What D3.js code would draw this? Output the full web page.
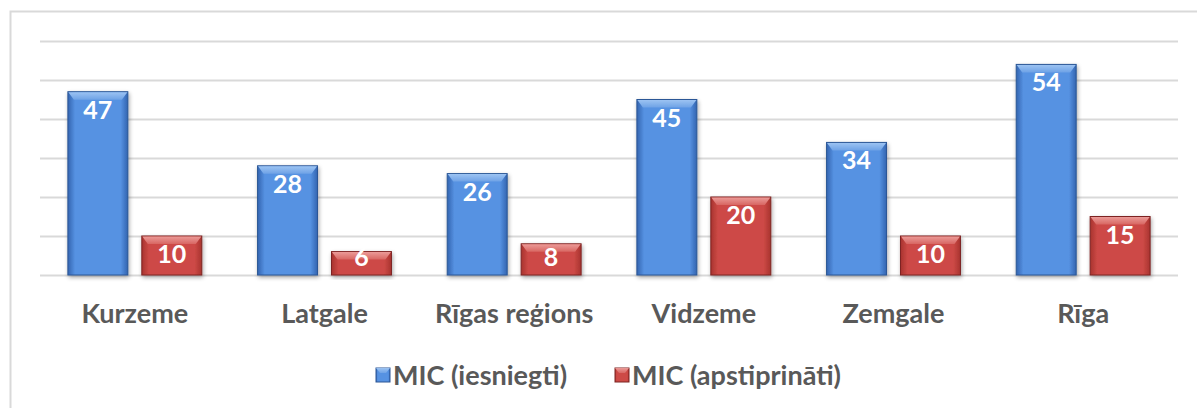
<!DOCTYPE html>
<html><head><meta charset="utf-8">
<script src="https://cdn.jsdelivr.net/npm/d3@7"></script>
<style>body{margin:0;background:#fff}svg{display:block}</style>
</head><body>
<svg id="c" width="1197" height="408"></svg>
<script>
const categories = ["Kurzeme","Latgale","Rīgas reģions","Vidzeme","Zemgale","Rīga"];
const seriesNames = ["MIC (iesniegti)","MIC (apstiprināti)"];
const submitted = [47,28,26,45,34,54];
const approved = [10,6,8,20,10,15];
const yTicks = [0,10,20,30,40,50,60];

const svg = d3.select("#c");
const W=1197,H=408;
const m={l:40,r:19,t:41,b:133};
const pw=W-m.l-m.r, ph=H-m.t-m.b;
const font="Lato, 'Open Sans', sans-serif";

const defs=svg.append("defs");
const pal=[{id:"b",edge:"#3364b0",mid:"#5692e2",top1:"#9cc3f2",top2:"#6ea2e6",stroke:"#2c5796"},
           {id:"r",edge:"#a8332f",mid:"#cd4a46",top1:"#eb9a97",top2:"#d86662",stroke:"#7d2422"}];
pal.forEach(p=>{
  const g=defs.append("linearGradient").attr("id","g"+p.id).attr("x1",0).attr("x2",1).attr("y1",0).attr("y2",0);
  g.append("stop").attr("offset","0").attr("stop-color",p.edge);
  g.append("stop").attr("offset","0.12").attr("stop-color",p.mid);
  g.append("stop").attr("offset","0.88").attr("stop-color",p.mid);
  g.append("stop").attr("offset","1").attr("stop-color",p.edge);
  const t=defs.append("linearGradient").attr("id","t"+p.id).attr("x1",0).attr("x2",0).attr("y1",0).attr("y2",1);
  t.append("stop").attr("offset","0").attr("stop-color",p.top1);
  t.append("stop").attr("offset","1").attr("stop-color",p.top2);
});
const sh=defs.append("filter").attr("id","sh").attr("x","-20%").attr("y","-20%").attr("width","140%").attr("height","140%");
sh.append("feGaussianBlur").attr("in","SourceAlpha").attr("stdDeviation",2);
sh.append("feOffset").attr("dx",1).attr("dy",2).attr("result","o");
sh.append("feComponentTransfer").append("feFuncA").attr("type","linear").attr("slope",0.35);
const mg=sh.append("feMerge"); mg.append("feMergeNode"); mg.append("feMergeNode").attr("in","SourceGraphic");

// outer border
svg.append("rect").attr("x",10.5).attr("y",11.5).attr("width",1200).attr("height",420)
  .attr("fill","none").attr("stroke","#d9d9d9").attr("stroke-width",2);

const g=svg.append("g").attr("transform",`translate(${m.l},${m.t})`);
const x0=d3.scaleBand().domain(categories).range([0,pw]).paddingInner(0.294).paddingOuter(0.147);
const x1=d3.scaleBand().domain(seriesNames).range([0,x0.bandwidth()]).paddingInner(0.189);
const y=d3.scaleLinear().domain([0,60]).range([ph,0]);

g.append("g").attr("class","grid")
  .call(d3.axisLeft(y).tickValues(yTicks).tickSize(-pw).tickFormat(""))
  .call(s=>s.select(".domain").remove())
  .call(s=>s.selectAll("line").attr("stroke","#d9d9d9").attr("stroke-width",2));

const data=categories.map((c,i)=>({c,vals:[submitted[i],approved[i]]}));
const grp=g.selectAll(".cat").data(data).join("g").attr("transform",d=>`translate(${x0(d.c)},0)`);
const bw=x1.bandwidth();
grp.each(function(d){
  const s=d3.select(this);
  d.vals.forEach((v,j)=>{
    const p=pal[j], xx=x1(seriesNames[j]), yy=y(v), hh=y(0)-y(v);
    const b=s.append("g").attr("filter","url(#sh)");
    b.append("rect").attr("x",xx).attr("y",yy).attr("width",bw).attr("height",hh)
      .attr("fill",`url(#g${p.id})`).attr("stroke",p.stroke).attr("stroke-width",1);
    const bv=Math.min(8,hh/2);
    b.append("path").attr("d",`M${xx+0.5},${yy+0.5}L${xx+bw-0.5},${yy+0.5}L${xx+bw-6},${yy+bv}L${xx+6},${yy+bv}Z`)
      .attr("fill",`url(#t${p.id})`);
    const ly=Math.min(yy+27, y(0)-9);
    s.append("text").attr("x",xx+bw/2).attr("y",ly).attr("text-anchor","middle")
      .attr("font-family",font).attr("font-weight","bold").attr("font-size",25).attr("fill","#fff").text(v);
  });
});

// category labels
g.append("g").attr("transform",`translate(0,${ph})`)
  .call(d3.axisBottom(x0).tickSize(0).tickPadding(29))
  .call(s=>s.select(".domain").remove())
  .call(s=>s.selectAll("text").attr("font-family",font).attr("font-weight","bold").attr("font-size",27).attr("fill","#595959"));

// legend
const leg=svg.append("g");
const lx=[376,615];
seriesNames.forEach((n,j)=>{
  const p=pal[j];
  leg.append("rect").attr("x",lx[j]).attr("y",368).attr("width",14).attr("height",14)
    .attr("fill",`url(#g${p.id})`).attr("stroke",p.stroke);
  leg.append("path").attr("d",`M${lx[j]},${368}L${lx[j]+14},368L${lx[j]+10},373L${lx[j]+4},373Z`).attr("fill",`url(#t${p.id})`);
  leg.append("text").attr("x",lx[j]+17).attr("y",385).attr("font-family",font).attr("font-weight","bold")
    .attr("font-size",27).attr("fill","#595959").text(n);
});
</script>
</body></html>
